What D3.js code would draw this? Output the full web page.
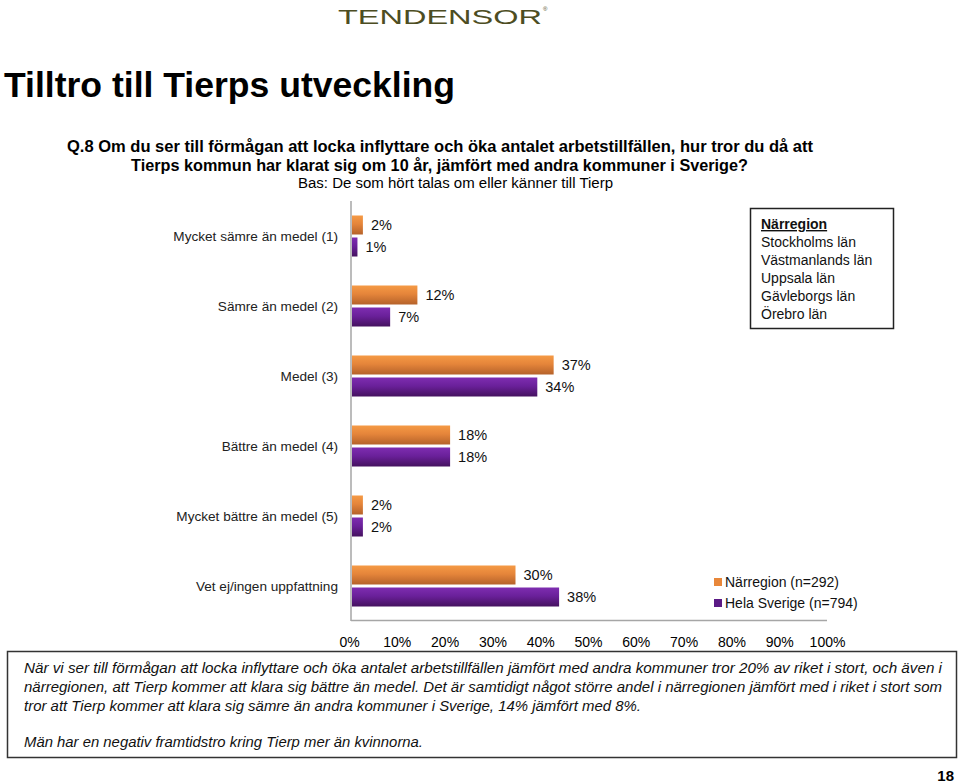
<!DOCTYPE html>
<html><head><meta charset="utf-8">
<script src="https://cdn.jsdelivr.net/npm/d3@7"></script>
<style>body{margin:0;background:#fff}svg{display:block}</style>
</head><body>
<script>
const categories = ["Mycket sämre än medel (1)","Sämre än medel (2)","Medel (3)","Bättre än medel (4)","Mycket bättre än medel (5)","Vet ej/ingen uppfattning"];
const seriesNames = ["Närregion (n=292)","Hela Sverige (n=794)"];
const narregion = [2,12,37,18,2,30];
const helaSverige = [1,7,34,18,2,38];
const tickValues = [0,10,20,30,40,50,60,70,80,90,100];
const regionList = ["Stockholms län","Västmanlands län","Uppsala län","Gävleborgs län","Örebro län"];

const W=960,H=784;
const svg=d3.select("body").append("svg").attr("width",W).attr("height",H);
const F="'Liberation Sans', Arial, sans-serif";
const FN="'Liberation Sans Narrow', 'Arial Narrow', 'Liberation Sans', sans-serif";

// gradients
const defs=svg.append("defs");
function grad(id,c1,c2,c3){const g=defs.append("linearGradient").attr("id",id).attr("x1",0).attr("y1",0).attr("x2",0).attr("y2",1);
 g.append("stop").attr("offset","0%").attr("stop-color",c1);
 g.append("stop").attr("offset","45%").attr("stop-color",c2);
 g.append("stop").attr("offset","100%").attr("stop-color",c3);}
grad("gO","#f59a45","#e5853a","#b5622a");
grad("gP","#7e2db0","#6a209a","#45125f");

// logo
svg.append("text").attr("x",338).attr("y",24).attr("font-family",F).attr("font-size",21).attr("font-weight",300)
 .attr("fill","#4d4d22").attr("textLength",204).attr("lengthAdjust","spacingAndGlyphs").text("TENDENSOR");
svg.append("text").attr("x",543).attr("y",11).attr("font-family",F).attr("font-size",6).attr("fill","#4d4d22").text("®");

// title
svg.append("text").attr("x",4).attr("y",97).attr("font-family",F).attr("font-size",35).attr("font-weight","bold")
 .attr("fill","#000").attr("textLength",451).attr("lengthAdjust","spacingAndGlyphs").text("Tilltro till Tierps utveckling");
const q=svg.append("g").attr("font-family",FN).attr("font-weight","bold").attr("font-size",17).attr("fill","#000");
q.append("text").attr("x",67).attr("y",152).attr("textLength",746).attr("lengthAdjust","spacingAndGlyphs")
 .text("Q.8 Om  du ser till förmågan att locka inflyttare och öka antalet arbetstillfällen, hur tror du då att");
q.append("text").attr("x",131).attr("y",171).attr("textLength",617).attr("lengthAdjust","spacingAndGlyphs")
 .text("Tierps kommun har klarat sig om 10 år, jämfört med andra kommuner i Sverige?");
svg.append("text").attr("x",298).attr("y",188).attr("font-family",FN).attr("font-size",14)
 .attr("textLength",315).attr("lengthAdjust","spacingAndGlyphs").text("Bas: De som hört talas om eller känner till Tierp");

// scales
const y=d3.scaleBand().domain(categories).range([201,621]).paddingInner(0).paddingOuter(0);
const xBar=d3.scaleLinear().domain([0,100]).range([352,897]);
const xAxis=d3.scaleLinear().domain([0,100]).range([349,827]);
const barH=19, gap=3;

// axis lines
svg.append("line").attr("x1",351).attr("x2",351).attr("y1",201).attr("y2",621).attr("stroke","#a6a6a6").attr("stroke-width",1.5);
svg.append("line").attr("x1",351).attr("x2",827).attr("y1",620.5).attr("y2",620.5).attr("stroke","#a6a6a6").attr("stroke-width",1.5);

// x tick labels
const ax=svg.append("g").attr("transform","translate(0,637)")
 .call(d3.axisBottom(xAxis).tickValues(tickValues).tickFormat(d=>d+"%").tickSize(0).tickPadding(0));
ax.select(".domain").remove();
ax.selectAll("text").attr("font-family",F).attr("font-size",14).attr("fill","#000");

// category labels
svg.append("g").selectAll("text").data(categories).join("text")
 .attr("x",338).attr("y",d=>y(d)+y.bandwidth()/2+5).attr("text-anchor","end")
 .attr("font-family",F).attr("font-size",13.6).attr("fill","#222").text(d=>d);

// bars
const series=[{vals:narregion,fill:"url(#gO)",off:-barH-gap/2},{vals:helaSverige,fill:"url(#gP)",off:gap/2}];
series.forEach(s=>{
 const g=svg.append("g");
 g.selectAll("rect").data(categories).join("rect")
  .attr("x",xBar(0)).attr("y",(d)=>y(d)+y.bandwidth()/2+s.off)
  .attr("width",(d,i)=>xBar(s.vals[i])-xBar(0)).attr("height",barH).attr("fill",s.fill);
 g.selectAll("text").data(categories).join("text")
  .attr("x",(d,i)=>xBar(s.vals[i])+8).attr("y",d=>y(d)+y.bandwidth()/2+s.off+barH/2+5)
  .attr("font-family",F).attr("font-size",14.5).attr("fill","#111").text((d,i)=>s.vals[i]+"%");
});

// region box
svg.append("rect").attr("x",750.5).attr("y",208.5).attr("width",143).attr("height",120).attr("fill","#fff").attr("stroke","#222").attr("stroke-width",1.5);
svg.append("text").attr("x",761).attr("y",229).attr("font-family",F).attr("font-size",14).attr("font-weight","bold").attr("fill","#111")
 .attr("text-decoration","underline").text("Närregion");
svg.append("g").selectAll("text").data(regionList).join("text").attr("x",761).attr("y",(d,i)=>247+i*18)
 .attr("font-family",F).attr("font-size",14).attr("fill","#111").text(d=>d);

// legend
const lg=svg.append("g");
lg.selectAll("rect").data(seriesNames).join("rect").attr("x",714).attr("y",(d,i)=>578+i*21).attr("width",8).attr("height",8)
 .attr("fill",(d,i)=>i?"#5b1a85":"#e8873a");
lg.selectAll("text").data(seriesNames).join("text").attr("x",725).attr("y",(d,i)=>587+i*21)
 .attr("font-family",F).attr("font-size",14).attr("fill","#111").text(d=>d);

// comment box
svg.append("rect").attr("x",7.5).attr("y",651.5).attr("width",949).attr("height",106).attr("fill","#fff").attr("stroke","#333").attr("stroke-width",1.5);
const lines=[
 ["När vi ser till förmågan att locka inflyttare och öka antalet arbetstillfällen jämfört med andra kommuner tror 20% av riket i stort, och även i",673,918],
 ["närregionen, att Tierp kommer att klara sig bättre än medel.  Det är samtidigt något större andel i närregionen jämfört med i riket i stort som",692,918],
 ["tror att Tierp kommer att klara sig sämre än andra kommuner i Sverige, 14% jämfört med 8%.",711,617],
 ["Män har en negativ framtidstro kring Tierp mer än kvinnorna.",747,399]];
svg.append("g").selectAll("text").data(lines).join("text").attr("x",24).attr("y",d=>d[1])
 .attr("font-family",FN).attr("font-style","italic").attr("font-size",15).attr("fill","#111")
 .attr("textLength",d=>d[2]).attr("lengthAdjust","spacingAndGlyphs").text(d=>d[0]);

svg.append("text").attr("x",954).attr("y",781).attr("text-anchor","end").attr("font-family",FN).attr("font-weight","bold").attr("font-size",15).text("18");
</script>
</body></html>
